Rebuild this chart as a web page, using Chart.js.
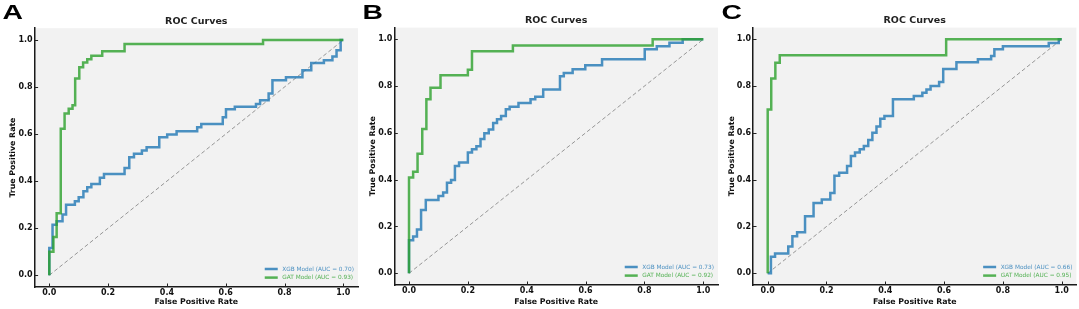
<!DOCTYPE html>
<html>
<head>
<meta charset="utf-8">
<script src="https://cdn.jsdelivr.net/npm/chart.js@4.4.1/dist/chart.umd.min.js"></script>
<style>
  body { margin: 0; background: #fff; width: 1079px; height: 309px; overflow: hidden; position: relative; }
  .panel { position: absolute; top: 0; width: 360px; height: 309px; }
</style>
</head>
<body>
<div class="panel" style="left:0"><canvas id="chartA"></canvas></div>
<div class="panel" style="left:360px"><canvas id="chartB"></canvas></div>
<div class="panel" style="left:719px"><canvas id="chartC"></canvas></div>
<script>
// ROC step points (top of each rise)
const xgbFprA = [0, 0, 0.011, 0.025, 0.045, 0.057, 0.087, 0.100, 0.116, 0.129, 0.143, 0.172, 0.186, 0.256, 0.272, 0.288, 0.315, 0.331, 0.374, 0.401, 0.433, 0.503, 0.517, 0.590, 0.601, 0.631, 0.703, 0.717, 0.746, 0.759, 0.805, 0.861, 0.891, 0.934, 0.963, 0.977, 0.991, 1];
const xgbTprA = [0, 0.116, 0.215, 0.229, 0.258, 0.300, 0.314, 0.331, 0.357, 0.374, 0.388, 0.414, 0.430, 0.456, 0.501, 0.516, 0.530, 0.544, 0.586, 0.598, 0.612, 0.629, 0.643, 0.671, 0.705, 0.716, 0.728, 0.744, 0.772, 0.829, 0.841, 0.871, 0.902, 0.914, 0.930, 0.956, 1.000, 1];
const gatFprA = [0, 0, 0.014, 0.025, 0.039, 0.052, 0.066, 0.079, 0.088, 0.102, 0.115, 0.129, 0.143, 0.180, 0.256, 0.727, 1];
const gatTprA = [0, 0.100, 0.163, 0.263, 0.623, 0.687, 0.708, 0.722, 0.836, 0.884, 0.904, 0.918, 0.933, 0.952, 0.983, 1.000, 1];

const xgbFprB = [0, 0, 0.014, 0.027, 0.041, 0.057, 0.100, 0.116, 0.129, 0.143, 0.156, 0.170, 0.200, 0.214, 0.229, 0.243, 0.256, 0.271, 0.286, 0.299, 0.313, 0.329, 0.342, 0.372, 0.413, 0.429, 0.456, 0.513, 0.526, 0.556, 0.599, 0.656, 0.801, 0.842, 0.885, 0.930, 1];
const xgbTprB = [0, 0.141, 0.157, 0.187, 0.271, 0.313, 0.330, 0.345, 0.387, 0.399, 0.459, 0.473, 0.516, 0.530, 0.543, 0.574, 0.598, 0.615, 0.642, 0.658, 0.672, 0.701, 0.712, 0.728, 0.744, 0.755, 0.786, 0.842, 0.856, 0.872, 0.889, 0.915, 0.957, 0.970, 0.985, 1.000, 1];
const gatFprB = [0, 0, 0.014, 0.029, 0.045, 0.059, 0.073, 0.107, 0.200, 0.214, 0.353, 0.828, 1];
const gatTprB = [0, 0.409, 0.434, 0.511, 0.617, 0.744, 0.793, 0.846, 0.870, 0.949, 0.973, 1.000, 1];

const xgbFprC = [0, 0.011, 0.025, 0.070, 0.084, 0.100, 0.127, 0.156, 0.184, 0.213, 0.227, 0.243, 0.270, 0.283, 0.297, 0.313, 0.327, 0.342, 0.356, 0.370, 0.383, 0.397, 0.426, 0.497, 0.526, 0.540, 0.554, 0.583, 0.597, 0.642, 0.715, 0.760, 0.771, 0.800, 0.956, 0.990, 1];
const xgbTprC = [0, 0.071, 0.085, 0.115, 0.158, 0.175, 0.244, 0.300, 0.315, 0.343, 0.417, 0.430, 0.459, 0.501, 0.516, 0.530, 0.544, 0.570, 0.601, 0.627, 0.661, 0.672, 0.744, 0.758, 0.772, 0.786, 0.800, 0.818, 0.873, 0.902, 0.915, 0.929, 0.957, 0.970, 0.984, 1.000, 1];
const gatFprC = [0, 0, 0.012, 0.026, 0.041, 0.607, 1];
const gatTprC = [0, 0.700, 0.833, 0.900, 0.932, 1.000, 1];

const xgbAuc = [0.70, 0.73, 0.66];
const gatAuc = [0.93, 0.92, 0.95];
const chanceLine = [0, 1];
const tickValues = [0, 0.2, 0.4, 0.6, 0.8, 1.0];
const panelLetters = ["A", "B", "C"];
const chartTitle = "ROC Curves";

const xgbColor = "rgba(31, 119, 180, 0.8)";
const gatColor = "rgba(44, 160, 44, 0.8)";
const font = "'DejaVu Sans', sans-serif";

function toPoints(xs, ys) {
  return xs.map((x, i) => ({ x: x, y: ys[i] }));
}

// plot background, title, inward ticks, legend and panel letter
const decorPlugin = {
  id: "decor",
  beforeDraw(chart) {
    const { ctx, chartArea } = chart;
    ctx.save();
    ctx.fillStyle = "#f2f2f2";
    ctx.fillRect(chartArea.left, chartArea.top, chartArea.right - chartArea.left, chartArea.bottom - chartArea.top);
    ctx.restore();
  },
  afterDraw(chart, args, opts) {
    const { ctx, chartArea } = chart;
    const xs = chart.scales.x;
    const ys = chart.scales.y;
    ctx.save();

    // title centred over the axes
    ctx.fillStyle = "#222";
    ctx.font = "bold 9.5px " + font;
    ctx.textAlign = "center";
    ctx.textBaseline = "middle";
    ctx.fillText(opts.title, (chartArea.left + chartArea.right) / 2, opts.titleY);

    ctx.strokeStyle = "#222";
    ctx.lineWidth = 1;
    ctx.beginPath();
    xs.ticks.forEach((t) => {
      const px = Math.round(xs.getPixelForValue(t.value)) + 0.5;
      ctx.moveTo(px, chartArea.bottom);
      ctx.lineTo(px, chartArea.bottom - 3.5);
    });
    ys.ticks.forEach((t) => {
      const py = Math.round(ys.getPixelForValue(t.value)) + 0.5;
      ctx.moveTo(chartArea.left, py);
      ctx.lineTo(chartArea.left + 3.5, py);
    });
    ctx.stroke();

    // legend, lower right inside the axes
    const items = chart.data.datasets.filter((d) => d.label);
    ctx.font = "5.8px " + font;
    ctx.textAlign = "left";
    const maxW = Math.max(...items.map((d) => ctx.measureText(d.label).width));
    const textLeft = chartArea.right - 4 - maxW;
    items.forEach((d, i) => {
      const y = chartArea.bottom - 18 + i * 8.6;
      ctx.strokeStyle = d.borderColor;
      ctx.lineWidth = 2.5;
      ctx.beginPath();
      ctx.moveTo(textLeft - 17.5, y);
      ctx.lineTo(textLeft - 4.5, y);
      ctx.stroke();
      ctx.fillStyle = d.borderColor;
      ctx.fillText(d.label, textLeft, y);
    });

    // panel letter
    ctx.translate(2.5, 19);
    ctx.scale(1.35, 1);
    ctx.fillStyle = "#000";
    ctx.font = "bold 21px 'Liberation Sans', Arial, sans-serif";
    ctx.textBaseline = "alphabetic";
    ctx.fillText(opts.letter, 0, 0);
    ctx.restore();
  }
};

function makeChart(canvasId, idx, xgbFpr, xgbTpr, gatFpr, gatTpr, box) {
  const ctx = document.getElementById(canvasId).getContext("2d");
  return new Chart(ctx, {
    type: "scatter",
    data: {
      datasets: [
        {
          label: `XGB Model (AUC = ${xgbAuc[idx].toFixed(2)})`,
          data: toPoints(xgbFpr, xgbTpr),
          borderColor: xgbColor,
          borderWidth: 2.5,
          showLine: true,
          stepped: "before",
          pointRadius: 0,
          order: 1,
        },
        {
          label: `GAT Model (AUC = ${gatAuc[idx].toFixed(2)})`,
          data: toPoints(gatFpr, gatTpr),
          borderColor: gatColor,
          borderWidth: 2.5,
          showLine: true,
          stepped: "before",
          pointRadius: 0,
          order: 0,
        },
        {
          label: "",
          data: toPoints(chanceLine, chanceLine),
          borderColor: "rgba(0, 0, 0, 0.38)",
          borderWidth: 1,
          borderDash: [4, 2.5],
          showLine: true,
          pointRadius: 0,
          order: 2,
        },
      ],
    },
    options: {
      responsive: true,
      maintainAspectRatio: false,
      animation: false,
      events: [],
      layout: { padding: { left: 0, right: box.right, top: box.top, bottom: 0 } },
      plugins: {
        legend: { display: false },
        tooltip: { enabled: false },
        title: { display: false },
        decor: { letter: panelLetters[idx], title: chartTitle, titleY: box.titleY },
      },
      scales: {
        x: {
          type: "linear",
          min: -0.05,
          max: 1.05,
          afterBuildTicks: (s) => { s.ticks = tickValues.map((v) => ({ value: v })); },
          afterFit: (s) => { s.height = box.bottom; },
          grid: { display: false, drawTicks: false },
          border: { display: true, color: "#1a1a1a", width: 1.5 },
          ticks: {
            color: "#111",
            padding: 1,
            maxRotation: 0,
            autoSkip: false,
            font: { family: font, size: 8, weight: "bold" },
            callback: (v) => v.toFixed(1),
          },
          title: {
            display: true,
            text: "False Positive Rate",
            color: "#111",
            font: { family: font, size: 7.8, weight: "bold", lineHeight: 1.2 },
            padding: { top: 0, bottom: 2.3 },
          },
        },
        y: {
          type: "linear",
          min: -0.05,
          max: 1.05,
          afterBuildTicks: (s) => { s.ticks = tickValues.map((v) => ({ value: v })); },
          afterFit: (s) => { s.width = box.left; },
          grid: { display: false, drawTicks: false },
          border: { display: true, color: "#1a1a1a", width: 1.5 },
          ticks: {
            color: "#111",
            padding: 2,
            autoSkip: false,
            font: { family: font, size: 8, weight: "bold" },
            callback: (v) => v.toFixed(1),
          },
          title: {
            display: true,
            text: "True Positive Rate",
            color: "#111",
            font: { family: font, size: 7.8, weight: "bold", lineHeight: 1.2 },
            padding: { top: 8.3, bottom: 0 },
          },
        },
      },
    },
    plugins: [decorPlugin],
  });
}

makeChart("chartA", 0, xgbFprA, xgbTprA, gatFprA, gatTprA, { left: 34.6, right: 2, top: 28.2, titleY: 21.3, bottom: 22 });
makeChart("chartB", 1, xgbFprB, xgbTprB, gatFprB, gatTprB, { left: 34.3, right: 2, top: 27.6, titleY: 20.8, bottom: 24 });
makeChart("chartC", 2, xgbFprC, xgbTprC, gatFprC, gatTprC, { left: 34, right: 2.6, top: 27.6, titleY: 20.8, bottom: 24 });
</script>
</body>
</html>
